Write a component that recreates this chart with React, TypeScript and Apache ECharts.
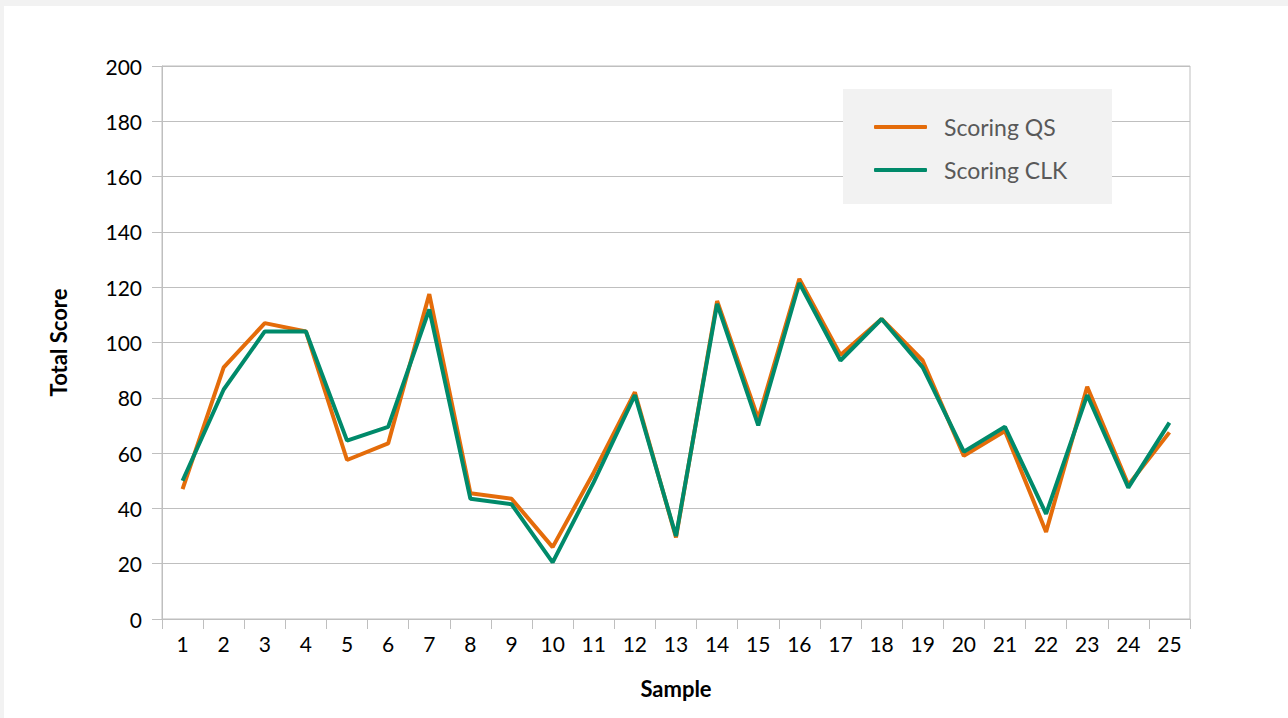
import React, { useEffect, useRef } from "react";
import * as echarts from "echarts";

const samples = ["1","2","3","4","5","6","7","8","9","10","11","12","13","14","15","16","17","18","19","20","21","22","23","24","25"];
const scoringQS = [47, 91, 107, 104, 57.5, 63.5, 117.5, 45.5, 43.5, 26, 53, 82, 29.5, 115, 72.5, 123, 95.5, 108.5, 93.5, 59, 68, 31.5, 84, 48.5, 67.5];
const scoringCLK = [50, 83, 104, 104, 64.5, 69.5, 112, 43.5, 41.5, 20.5, 49.5, 81, 30, 114, 70, 121.5, 93.5, 108.5, 91, 60.5, 69.5, 38, 81, 47.5, 71];
const yTicks = { min: 0, max: 200, interval: 20 };

const FONT = "Lato";

export default function App() {
  const ref = useRef<HTMLDivElement>(null);
  useEffect(() => {
    if (!ref.current) return;
    const chart = echarts.init(ref.current, undefined, { renderer: "svg" });
    chart.setOption({
      animation: false,
      backgroundColor: "#f2f2f2",
      graphic: [
        { type: "rect", z: -10, shape: { x: 4, y: 6, width: 1284, height: 712 }, style: { fill: "#ffffff" } },
        { type: "rect", z: 5, shape: { x: 843, y: 89, width: 269, height: 115 }, style: { fill: "#f2f2f2" } },
      ],
      grid: { left: 162, top: 66, right: 98, bottom: 99, show: true, borderColor: "#bfbfbf", borderWidth: 1, backgroundColor: "transparent" },
      legend: {
        z: 10,
        orient: "vertical",
        left: 869,
        top: 110,
        itemWidth: 53,
        itemHeight: 4,
        itemGap: 19,
        icon: "roundRect",
        textStyle: { fontFamily: FONT, fontSize: 23, color: "#595959", lineHeight: 24, padding: [0, 0, 0, 12] },
        data: ["Scoring QS", "Scoring CLK"],
      },
      xAxis: {
        type: "category",
        data: samples,
        boundaryGap: true,
        name: "Sample",
        nameLocation: "middle",
        nameGap: 58,
        nameTextStyle: { fontFamily: FONT, fontSize: 22, fontWeight: "bold", color: "#000" },
        axisLine: { lineStyle: { color: "#bfbfbf", width: 1 } },
        axisTick: { show: true, length: 10, alignWithLabel: false, lineStyle: { color: "#bfbfbf" } },
        axisLabel: { fontFamily: FONT, fontSize: 21, color: "#000", margin: 14, interval: 0 },
        splitLine: { show: false },
      },
      yAxis: {
        type: "value",
        min: yTicks.min,
        max: yTicks.max,
        interval: yTicks.interval,
        name: "Total Score",
        nameLocation: "middle",
        nameGap: 93,
        nameTextStyle: { fontFamily: FONT, fontSize: 22, fontWeight: "bold", color: "#000" },
        axisLine: { show: true, lineStyle: { color: "#bfbfbf", width: 1 } },
        axisTick: { show: true, length: 10, lineStyle: { color: "#bfbfbf" } },
        axisLabel: { fontFamily: FONT, fontSize: 21, color: "#000", margin: 20 },
        splitLine: { show: true, lineStyle: { color: "#bfbfbf", width: 1 } },
      },
      series: [
        {
          name: "Scoring QS",
          type: "line",
          data: scoringQS,
          symbol: "none",
          showSymbol: false,
          itemStyle: { color: "#e46c0a" },
          lineStyle: { color: "#e46c0a", width: 4 },
        },
        {
          name: "Scoring CLK",
          type: "line",
          data: scoringCLK,
          symbol: "none",
          showSymbol: false,
          itemStyle: { color: "#008a6a" },
          lineStyle: { color: "#008a6a", width: 4 },
        },
      ],
    });
    return () => chart.dispose();
  }, []);
  return <div ref={ref} style={{ position: "fixed", left: 0, top: 0, width: 1288, height: 718 }} />;
}
